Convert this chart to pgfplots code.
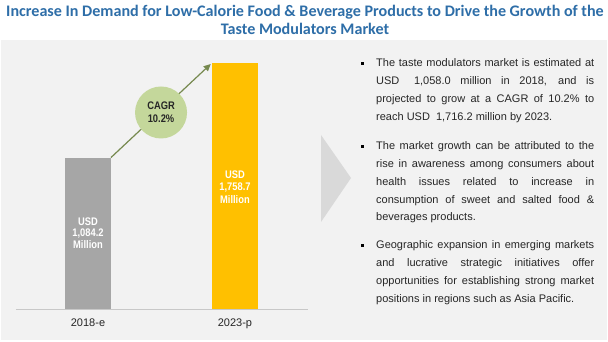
\documentclass[border=0pt]{standalone}
\usepackage{fontspec}
\setmainfont{Liberation Sans}
\newfontfamily\titlefont{Carlito}
\usepackage{pgfplots}
\pgfplotsset{compat=1.18}
\usetikzlibrary{arrows.meta}
\definecolor{bg}{HTML}{F2F2F2}
\definecolor{titleblue}{HTML}{2E6EA8}
\definecolor{bargray}{HTML}{A6A6A6}
\definecolor{baryellow}{HTML}{FFC000}
\definecolor{cagrfill}{HTML}{C4D79B}
\definecolor{arrowgreen}{HTML}{76894F}
\definecolor{chev}{HTML}{D9D9D9}
\definecolor{txt}{HTML}{262626}
\definecolor{lgray}{HTML}{C8C8C8}
\begin{document}
\begin{tikzpicture}[x=1pt,y=1pt]
\fill[white] (0,0) rectangle (608,342);
\fill[bg] (1,2) rectangle (607,302);
\node[font=\titlefont\bfseries\fontsize{16.1}{18}\selectfont, text=titleblue, anchor=base, inner sep=0] at (305,325) {Increase In Demand for Low-Calorie Food \& Beverage Products to Drive the Growth of the};
\node[font=\titlefont\bfseries\fontsize{16.1}{18}\selectfont, text=titleblue, anchor=base, inner sep=0] at (305,307) {Taste Modulators Market};
\fill[chev] (321,207) -- (351,164) -- (321,120) -- cycle;
\begin{axis}[at={(16pt,33pt)}, anchor=south west, scale only axis,
  width=292pt, height=260pt,
  xmin=-0.490, xmax=1.497, ymin=0, ymax=1861.6,
  axis x line=bottom, axis y line=none,
  x axis line style={draw=lgray, line width=0.8pt, -},
  xtick={0,1}, xticklabels={2018-e,2023-p},
  major tick length=0pt,
  xticklabel style={font=\fontsize{11}{13}\selectfont, text=txt, anchor=base, yshift=-18pt},
  clip=false]
\addplot[ybar, bar shift=0pt, bar width=46pt, fill=bargray, draw=none] coordinates {(0,1084.2)};
\addplot[ybar, bar shift=0pt, bar width=46pt, fill=baryellow, draw=none] coordinates {(1,1758.7)};
\draw[arrowgreen, line width=1.2pt, -{Triangle[length=7pt,width=6.5pt]}] (axis cs:0.156,1084.2) -- (axis cs:0.835,1754);
\node[circle, fill=cagrfill, minimum size=52pt, inner sep=0, align=center, text=txt, font=\bfseries\fontsize{11}{13}\selectfont] at (axis cs:0.497,1407) {\scalebox{0.85}[1]{CAGR}\\\scalebox{0.85}[1]{10.2\%}};
\node[align=center, text=white, font=\bfseries\fontsize{11}{11.8}\selectfont] at (axis cs:0,544) {\scalebox{0.85}[1]{USD}\\\scalebox{0.85}[1]{1,084.2}\\\scalebox{0.85}[1]{Million}};
\node[align=center, text=white, font=\bfseries\fontsize{11}{12.8}\selectfont] at (axis cs:1,873) {\scalebox{0.85}[1]{USD}\\\scalebox{0.85}[1]{1,758.7}\\\scalebox{0.85}[1]{Million}};
\end{axis}
\begin{scope}[every node/.style={anchor=base west, inner sep=0, text=txt, font=\fontsize{11}{13}\selectfont}]
% paragraph 1
\fill[black] (360.5,342-64.7) rectangle +(3,3);
\node at (376,342-67) {\makebox[218pt][s]{The taste modulators market is estimated at}};
\node at (376,342-84.7) {\makebox[218pt][s]{USD\hspace{5pt} 1,058.0 million in 2018, and is}};
\node at (376,342-102.4) {\makebox[218pt][s]{projected to grow at a CAGR of 10.2\% to}};
\node at (376,342-120.1) {reach USD\hspace{3pt} 1,716.2 million by 2023.};
% paragraph 2
\fill[black] (360.5,342-147.7) rectangle +(3,3);
\node at (376,342-150) {\makebox[218pt][s]{The market growth can be attributed to the}};
\node at (376,342-167.7) {\makebox[218pt][s]{rise in awareness among consumers about}};
\node at (376,342-185.4) {\makebox[218pt][s]{health issues related to increase in}};
\node at (376,342-203.1) {\makebox[218pt][s]{consumption of sweet and salted food \&}};
\node at (376,342-220.8) {beverages products.};
% paragraph 3
\fill[black] (360.5,342-246.7) rectangle +(3,3);
\node at (376,342-249) {\makebox[218pt][s]{Geographic expansion in emerging markets}};
\node at (376,342-266.7) {\makebox[218pt][s]{and lucrative strategic initiatives offer}};
\node at (376,342-284.4) {\makebox[218pt][s]{opportunities for establishing strong market}};
\node at (376,342-302.1) {positions in regions such as Asia Pacific.};
\end{scope}
\end{tikzpicture}
\end{document}
